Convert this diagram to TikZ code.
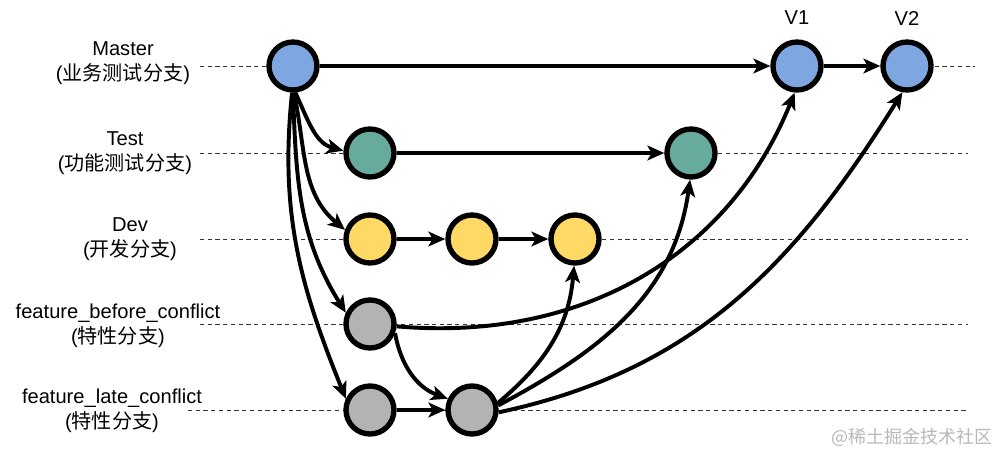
\documentclass[tikz,border=0pt]{standalone}
\usepackage{fontspec}
\setmainfont{Liberation Sans}
\newfontfamily\cjk{Noto Sans CJK SC}
\usepackage{tikz}
\usetikzlibrary{arrows.meta}
\definecolor{MasterBlue}{RGB}{126,166,224}
\definecolor{TestGreen}{RGB}{103,171,159}
\definecolor{DevYellow}{RGB}{255,217,102}
\definecolor{FeatGray}{RGB}{179,179,179}
\tikzset{
  commit/.style={circle,draw=black,line width=3.8pt,minimum size=1.2cm,inner sep=0pt},
  flow/.style={draw=black,line width=2.8pt,-{Stealth[length=12pt,width=10.5pt,inset=3pt]}},
  lane/.style={draw=black!80,dashed,line width=0.7pt,dash pattern=on 3pt off 2.5pt},
  lbl/.style={align=center,font=\fontsize{14.3pt}{18pt}\selectfont},
}

\begin{document}
\begin{tikzpicture}[x=0.025cm,y=0.025cm]
\useasboundingbox (0,0) rectangle (999,-455);
% swim lanes
\draw[lane] (200,-66)--(975,-66);
\draw[lane] (200,-153)--(968,-153);
\draw[lane] (200,-239)--(968,-239);
\draw[lane] (200,-324)--(968,-324);
\draw[lane] (188,-410)--(968,-410);
% branch names
\node[lbl] (lm) at (123,-63) {Master\\({\cjk 业务测试分支})};
\node[lbl] (lt) at (125,-153) {Test\\({\cjk 功能测试分支})};
\node[lbl] (ld) at (130,-239) {Dev\\({\cjk 开发分支})};
\node[lbl] (lb) at (118,-326) {feature\_before\_conflict\\({\cjk 特性分支})};
\node[lbl] (ll) at (112,-411) {feature\_late\_conflict\\({\cjk 特性分支})};
\node[lbl] (lv1) at (797,-18) {V1};
\node[lbl] (lv2) at (907,-18) {V2};
% commits
\node[commit,fill=MasterBlue] (m0) at (293,-66) {};
\node[commit,fill=MasterBlue] (v1) at (797,-66) {};
\node[commit,fill=MasterBlue] (v2) at (907,-66) {};
\node[commit,fill=TestGreen] (t1) at (370,-153) {};
\node[commit,fill=TestGreen] (t2) at (691,-153) {};
\node[commit,fill=DevYellow] (d1) at (370,-239) {};
\node[commit,fill=DevYellow] (d2) at (472,-239) {};
\node[commit,fill=DevYellow] (d3) at (575,-239) {};
\node[commit,fill=FeatGray] (fb) at (370,-324) {};
\node[commit,fill=FeatGray] (fl1) at (370,-410) {};
\node[commit,fill=FeatGray] (fl2) at (472,-410) {};
% straight flows
\draw[flow] (m0)--(v1);
\draw[flow] (v1)--(v2);
\draw[flow] (t1)--(t2);
\draw[flow] (d1)--(d2);
\draw[flow] (d2)--(d3);
\draw[flow] (fl1)--(fl2);
% fan out of master
\draw[flow] (m0.-85) to[out=-65,in=165] (t1.175);
\draw[flow] (m0.-88) to[out=-78,in=140] (d1.160);
\draw[flow] (m0.-90) to[out=-88,in=122] (fb.155);
\draw[flow] (m0.-92) to[out=-96,in=112] (fl1.155);
% merges
\draw[flow] (fb.-20) to[out=-80,in=160] (fl2.155);
\draw[flow] (fb.-5) to[out=-5,in=-112] (v1.-95);
\draw[flow] (fl2.15) to[out=40,in=-95] (d3.-92);
\draw[flow] (fl2.10) to[out=28,in=-98] (t2.-92);
\draw[flow] (fl2.-5) to[out=12,in=-122] (v2.-100);
% watermark
\node[font=\fontsize{12.8pt}{15pt}\selectfont\cjk,text=black!28] (wm) at (912,-437) {@稀土掘金技术社区};
\end{tikzpicture}
\end{document}
